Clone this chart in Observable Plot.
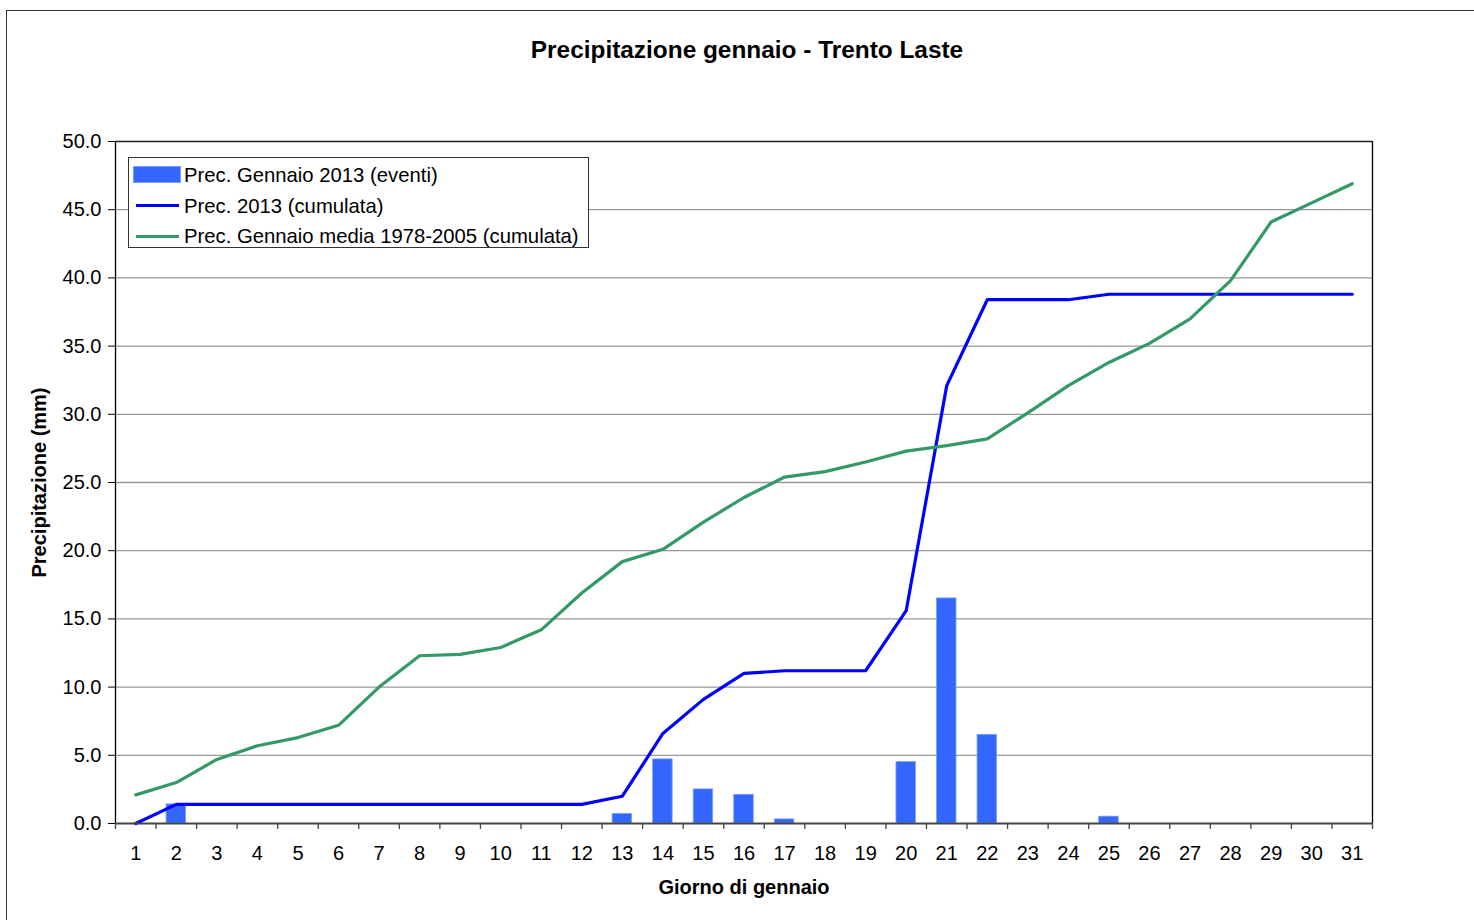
<!DOCTYPE html>
<html>
<head>
<meta charset="utf-8">
<script src="https://cdn.jsdelivr.net/npm/d3@7"></script>
<script src="https://cdn.jsdelivr.net/npm/@observablehq/plot@0.6"></script>
<style>
  html, body { margin: 0; padding: 0; background: #fff; }
  body { font-family: "Liberation Sans", Arial, sans-serif; }
  #wrap { position: relative; width: 1474px; height: 920px; overflow: hidden; }
  #outer { position: absolute; left: 6px; top: 10px; width: 1480px; height: 930px;
           border-left: 1.5px solid #333; border-top: 1.5px solid #333; box-sizing: border-box; }
  #title { position: absolute; left: 0; top: 35px; width: 1494px; text-align: center;
           font-weight: bold; font-size: 24.4px; line-height: 30px; color: #000; }
  #chart { position: absolute; left: 0; top: 0; }
  #legend { position: absolute; left: 128px; top: 157px; width: 461px; height: 91px;
            border: 1px solid #333; box-sizing: border-box; background: #fff; }
  .row { position: absolute; left: 0; height: 30px; font-size: 20.3px; line-height: 30px; color: #000; }
  .row span.t { position: absolute; left: 55px; white-space: nowrap; }
  .sw { position: absolute; }
</style>
</head>
<body>
<div id="wrap">
  <div id="chart"></div>
  <div id="outer"></div>
  <div id="title">Precipitazione gennaio - Trento Laste</div>
  <div id="legend"></div>
</div>
<script>
// ---- data ----
const days = d3.range(1, 32);
const dailyPrec2013 = [0, 1.4, 0, 0, 0, 0, 0, 0, 0, 0, 0, 0, 0.7, 4.7, 2.5, 2.1, 0.3, 0, 0, 4.5, 16.5, 6.5, 0, 0, 0.5, 0, 0, 0, 0, 0, 0];
const cumul2013 = [0, 1.4, 1.4, 1.4, 1.4, 1.4, 1.4, 1.4, 1.4, 1.4, 1.4, 1.4, 2.0, 6.6, 9.1, 11.0, 11.2, 11.2, 11.2, 15.6, 32.1, 38.4, 38.4, 38.4, 38.8, 38.8, 38.8, 38.8, 38.8, 38.8, 38.8];
const cumulMedia = [2.1, 3.0, 4.7, 5.7, 6.3, 7.2, 10.0, 12.3, 12.4, 12.9, 14.2, 16.9, 19.2, 20.1, 22.1, 23.9, 25.4, 25.8, 26.5, 27.3, 27.7, 28.2, 30.1, 32.1, 33.8, 35.2, 37.0, 39.8, 44.1, 45.5, 46.9];
const yTicks = [0, 5, 10, 15, 20, 25, 30, 35, 40, 45, 50];
const seriesNames = ["Prec. Gennaio 2013 (eventi)", "Prec. 2013 (cumulata)", "Prec. Gennaio media 1978-2005 (cumulata)"];
const colors = ["#3366ff", "#0000ff", "#339966"];

const bars = days.map((d, i) => ({day: d, v: dailyPrec2013[i]})).filter(d => d.v > 0);
const line2013 = days.map((d, i) => ({day: d, v: cumul2013[i]}));
const lineMedia = days.map((d, i) => ({day: d, v: cumulMedia[i]}));
const boundaries = d3.range(0.5, 32, 1);

const chart = Plot.plot({
  width: 1474,
  height: 920,
  marginLeft: 115,
  marginRight: 102,
  marginTop: 141,
  marginBottom: 97,
  style: {fontFamily: "'Liberation Sans', Arial, sans-serif", fontSize: "20px", color: "#000", background: "transparent"},
  x: {type: "linear", domain: [0.5, 31.5]},
  y: {domain: [0, 50]},
  marks: [
    Plot.gridY(yTicks.slice(1, -1), {stroke: "#999", strokeOpacity: 1, strokeWidth: 1.3}),
    Plot.rectY(bars, {x1: d => d.day - 0.24, x2: d => d.day + 0.24, y: "v", fill: colors[0], stroke: "#7a9dff", strokeWidth: 0.8}),
    Plot.line(line2013, {x: "day", y: "v", stroke: colors[1], strokeWidth: 3.2}),
    Plot.line(lineMedia, {x: "day", y: "v", stroke: colors[2], strokeWidth: 3.2}),
    Plot.axisY({ticks: yTicks, tickFormat: d3.format(".1f"), tickSize: 7, tickPadding: 7, label: null, stroke: "#000"}),
    Plot.axisX({ticks: days, tickFormat: d => String(d), tickSize: 0, tickPadding: 22, label: null}),
    Plot.axisX({ticks: boundaries, tickFormat: () => "", tickSize: 6, label: null, stroke: "#444", strokeWidth: 1.3}),
    Plot.ruleX([0.5], {stroke: "#000", strokeWidth: 1.3}),
    Plot.ruleX([31.5], {stroke: "#000", strokeWidth: 1.3}),
    Plot.ruleY([50], {stroke: "#222", strokeWidth: 1.3}),
    Plot.ruleY([0], {stroke: "#444", strokeWidth: 2.2}),
    Plot.text(["Precipitazione (mm)"], {frameAnchor: "left", dx: -76, rotate: -90, textAnchor: "middle", fontWeight: "bold", fontSize: 20, fill: "#000"}),
    Plot.text(["Giorno di gennaio"], {frameAnchor: "bottom", dy: 70, fontWeight: "bold", fontSize: 20, fill: "#000"})
  ]
});
document.getElementById("chart").appendChild(chart);

// ---- legend ----
const legend = document.getElementById("legend");
seriesNames.forEach((name, i) => {
  const row = document.createElement("div");
  row.className = "row";
  row.style.top = (2 + i * 30.5) + "px";
  row.style.width = "100%";
  const sw = document.createElement("div");
  sw.className = "sw";
  if (i === 0) {
    sw.style.left = "5px"; sw.style.top = "7px"; sw.style.width = "46px"; sw.style.height = "15px";
    sw.style.background = colors[0]; sw.style.outline = "1px solid #7a9dff";
  } else {
    sw.style.left = "7px"; sw.style.top = "13.5px"; sw.style.width = "43px"; sw.style.height = "3px";
    sw.style.background = colors[i];
  }
  const t = document.createElement("span");
  t.className = "t";
  t.textContent = name;
  row.appendChild(sw);
  row.appendChild(t);
  legend.appendChild(row);
});
</script>
</body>
</html>
